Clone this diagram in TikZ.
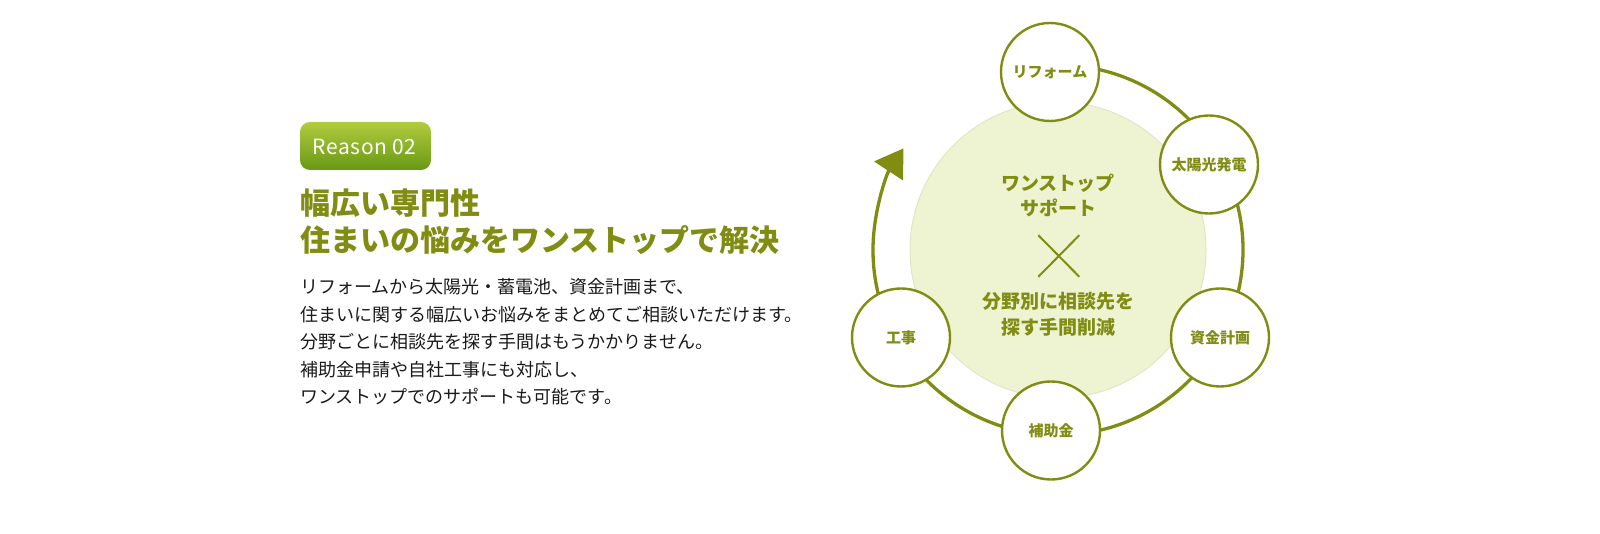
\documentclass[tikz,border=0pt]{standalone}
\usepackage{fontspec}
\setmainfont{Noto Sans CJK JP}
\usepackage{tikz}
\usetikzlibrary{arrows.meta}
\definecolor{leaf}{RGB}{128,141,18}
\definecolor{pale}{RGB}{238,243,210}
\definecolor{paleline}{RGB}{224,231,198}
\definecolor{badgetop}{RGB}{178,204,62}
\definecolor{badgebot}{RGB}{104,152,20}
\definecolor{ink}{RGB}{26,26,26}

\begin{document}
\begin{tikzpicture}[x=1pt,y=1pt,
  stage/.style={circle,draw=leaf,line width=2.4pt,fill=white,minimum size=98pt,inner sep=0pt,
    text=leaf,font=\bfseries\fontsize{15}{15}\selectfont},
  ring/.style={draw=leaf,line width=3.3pt,-{Triangle[length=27pt,width=34pt]}},
  hubtext/.style={text=leaf,font=\bfseries\fontsize{19}{19}\selectfont,anchor=base,inner sep=0pt},
  head/.style={text=leaf,font=\bfseries\fontsize{30}{30}\selectfont,anchor=base west,inner sep=0pt},
  body/.style={text=ink,font=\fontsize{18}{18}\selectfont,anchor=base west,inner sep=0pt}]
  \useasboundingbox (0,0) rectangle (1600,534);

  % badge and heading
  \node[rounded corners=10pt,top color=badgetop,bottom color=badgebot,
        minimum width=131pt,minimum height=48pt,inner sep=0pt] (badge) at (365.5,388) {};
  \node[text=white,font=\fontsize{21}{21}\selectfont\addfontfeature{LetterSpace=3},anchor=base,inner sep=0pt]
        (reason) at (364.5,379.7) {Reason 02};
  \node[head] (head1) at (300,319) {幅広い専門性};
  \node[head] (head2) at (300,282.6) {住まいの悩みをワンストップで解決};

  % body text
  \foreach \txt [count=\i] in {リフォームから太陽光・蓄電池、資金計画まで、,
      住まいに関する幅広いお悩みをまとめてご相談いただけます。,
      分野ごとに相談先を探す手間はもうかかりません。,
      補助金申請や自社工事にも対応し、,
      ワンストップでのサポートも可能です。}
    \node[body] (body\i) at (300,{240-27.5*(\i-1)}) {\txt};

  % cycle
  \node[circle,fill=pale,draw=paleline,line width=1pt,minimum size=296pt] (hub) at (1058,284) {};
  \draw[ring] ([shift={(85:185)}]hub.center) arc[start angle=85,end angle=-213.3,radius=185];

  \node[stage] (reform) at (1050,462)   {リフォーム};
  \node[stage] (solar)  at (1209,369.5) {太陽光発電};
  \node[stage] (fund)   at (1220,196.5) {資金計画};
  \node[stage] (grant)  at (1051,103.5) {補助金};
  \node[stage] (works)  at (901,196.5)  {工事};

  % centre text
  \node[hubtext] (one1) at (1058,343.8) {ワンストップ};
  \node[hubtext] (one2) at (1058,318.8) {サポート};
  \node[hubtext] (field1) at (1058,225.8) {分野別に相談先を};
  \node[hubtext] (field2) at (1058,199.1) {探す手間削減};
  \coordinate (mark) at (1058.8,278);
  \draw[leaf,line width=2pt] ([shift={(-20.5,20.8)}]mark) -- ([shift={(20.5,-20.8)}]mark)
        ([shift={(-20.5,-20.8)}]mark) -- ([shift={(20.5,20.8)}]mark);
\end{tikzpicture}
\end{document}
